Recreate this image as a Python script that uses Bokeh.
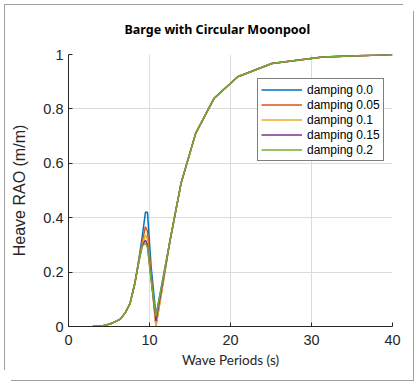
from bokeh.plotting import figure
from bokeh.models import Range1d, FixedTicker, Legend
from bokeh.embed import file_html
from bokeh.resources import INLINE

# ---- data ----
periods = [3.0, 4.0, 4.6, 5.2, 5.8, 6.4, 7.0, 7.6, 8.2, 8.7, 9.1, 9.5, 9.75, 10.2, 10.8,
           12.5, 13.9, 15.7, 17.95, 20.9, 25.1, 31.4, 40.0]
rao_d000 = [0.0, 0.002, 0.005, 0.01, 0.018, 0.027, 0.05, 0.085, 0.16, 0.25, 0.33, 0.42, 0.42,
            0.22, 0.04, 0.31, 0.527, 0.71, 0.838, 0.918, 0.967, 0.991, 1.0]
rao_d005 = [0.0, 0.002, 0.005, 0.01, 0.018, 0.027, 0.05, 0.085, 0.16, 0.245, 0.31, 0.367, 0.35,
            0.19, 0.0, 0.31, 0.527, 0.71, 0.838, 0.918, 0.967, 0.991, 1.0]
rao_d010 = [0.0, 0.002, 0.005, 0.01, 0.018, 0.027, 0.05, 0.085, 0.16, 0.242, 0.30, 0.337, 0.32,
            0.18, 0.0, 0.31, 0.527, 0.71, 0.838, 0.918, 0.967, 0.991, 1.0]
rao_d015 = [0.0, 0.002, 0.005, 0.01, 0.018, 0.027, 0.05, 0.085, 0.16, 0.24, 0.297, 0.318, 0.30,
            0.175, 0.02, 0.31, 0.527, 0.71, 0.838, 0.918, 0.967, 0.991, 1.0]
rao_d020 = [0.0, 0.002, 0.005, 0.01, 0.018, 0.027, 0.05, 0.085, 0.16, 0.24, 0.295, 0.306, 0.29,
            0.17, 0.037, 0.31, 0.527, 0.71, 0.838, 0.918, 0.967, 0.991, 1.0]

series_labels = ["damping 0.0", "damping 0.05", "damping 0.1", "damping 0.15", "damping 0.2"]
series_values = [rao_d000, rao_d005, rao_d010, rao_d015, rao_d020]
series_colors = ["#0072BD", "#D95319", "#EDB120", "#7E2F8E", "#77AC30"]

x_ticks = [0, 10, 20, 30, 40]
y_ticks = [0, 0.2, 0.4, 0.6, 0.8, 1.0]
y_tick_labels = ["0", "0.2", "0.4", "0.6", "0.8", "1"]

title_text = "Barge with Circular Moonpool"
x_label = "Wave Periods (s)"
y_label = "Heave RAO (m/m)"

# ---- figure ----
p = figure(width=403, height=370, output_backend="svg", toolbar_location=None,
           x_range=Range1d(0, 40), y_range=Range1d(0, 1),
           min_border_left=68, min_border_right=11, min_border_top=54, min_border_bottom=44,
           title=title_text)
# grey frame around the whole picture, as in the reference image
p.styles = {"box-shadow": ("inset 4px 4px 0 0 #ffffff, inset 5px 5px 0 0 #a0a0a0, "
                           "10px 10px 0 0 #ffffff, 11px 11px 0 0 #a0a0a0"),
            "background-color": "#ffffff"}

p.title.text_font = "Noto Sans"
p.title.text_font_style = "bold"
p.title.text_font_size = "12.5px"
p.title.text_color = "#000000"
p.title.align = "left"
p.title.offset = 56
p.title.standoff = 33

p.outline_line_color = None
p.background_fill_color = "white"
p.border_fill_color = None

for ax in (p.xaxis[0], p.yaxis[0]):
    ax.axis_line_color = "#262626"
    ax.major_tick_line_color = "#262626"
    ax.major_tick_in = 4
    ax.major_tick_out = 0
    ax.minor_tick_line_color = None
    ax.major_label_text_font = "Liberation Sans"
    ax.major_label_text_font_size = "14.5px"
    ax.major_label_text_color = "#262626"
    ax.axis_label_text_font_style = "normal"
    ax.axis_label_text_color = "#262626"

p.xaxis.ticker = FixedTicker(ticks=x_ticks)
p.yaxis.ticker = FixedTicker(ticks=y_ticks)
p.yaxis.major_label_overrides = {t: l for t, l in zip(y_ticks, y_tick_labels)}
p.xaxis.major_label_standoff = 8
p.yaxis.major_label_standoff = 5

p.xaxis.axis_label = x_label
p.xaxis.axis_label_text_font = "Lato"
p.xaxis.axis_label_text_font_size = "13.5px"
p.xaxis.axis_label_standoff = 4
p.yaxis.axis_label = y_label
p.yaxis.axis_label_text_font = "Liberation Sans"
p.yaxis.axis_label_text_font_size = "16px"
p.yaxis.axis_label_standoff = 12

p.grid.grid_line_color = "#dcdcdc"
p.grid.grid_line_width = 1

items = []
for lab, vals, col in zip(series_labels, series_values, series_colors):
    r = p.line(periods, vals, line_color=col, line_width=1.5)
    items.append((lab, [r]))

legend = Legend(items=items, location=(189, 165))
legend.border_line_color = "#000000"
legend.border_line_width = 1
legend.background_fill_color = "white"
legend.background_fill_alpha = 1
legend.label_text_font = "Liberation Sans"
legend.label_text_font_size = "12px"
legend.label_text_color = "#000000"
legend.glyph_width = 41
legend.glyph_height = 15
legend.label_height = 15
legend.label_standoff = 5
legend.spacing = 0
legend.padding = 3
legend.margin = 0
p.add_layout(legend, "center")

open("out.html", "w").write(file_html(p, INLINE))
